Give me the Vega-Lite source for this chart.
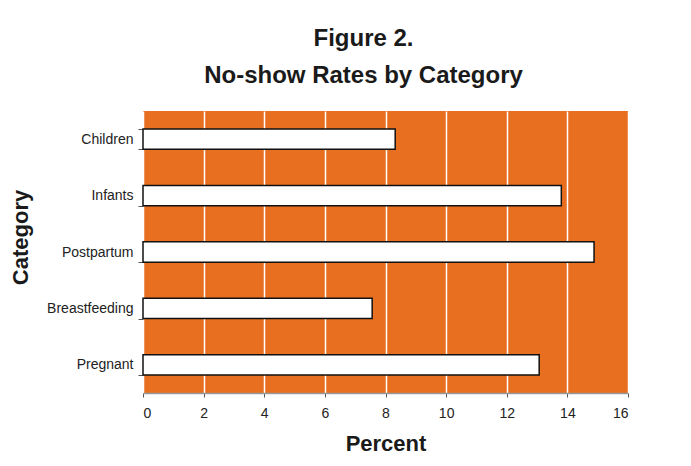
{
  "$schema": "https://vega.github.io/schema/vega-lite/v6.json",
  "autosize": "none",
  "width": 485,
  "height": 282,
  "padding": {"left": 143, "top": 111, "right": 63, "bottom": 73},
  "background": "white",
  "title": {
    "text": ["Figure 2.", "No-show Rates by Category"],
    "font": "Liberation Sans",
    "fontSize": 24,
    "fontWeight": "bold",
    "color": "#1a1a1a",
    "lineHeight": 37,
    "anchor": "middle",
    "dx": -22,
    "offset": 16
  },
  "data": {
    "values": [
      {"category": "Children", "percent": 8.32},
      {"category": "Infants", "percent": 13.8},
      {"category": "Postpartum", "percent": 14.88},
      {"category": "Breastfeeding", "percent": 7.56},
      {"category": "Pregnant", "percent": 13.07}
    ]
  },
  "mark": {"type": "bar", "fill": "white", "stroke": "#111111", "strokeWidth": 1.5},
  "encoding": {
    "y": {
      "field": "category",
      "type": "nominal",
      "sort": null,
      "scale": {"paddingInner": 0.64, "paddingOuter": 0.32},
      "axis": {
        "title": "Category",
        "titleFont": "Liberation Sans",
        "titleFontSize": 22,
        "titleFontWeight": "bold",
        "titleColor": "#1a1a1a",
        "titlePadding": 14,
        "titleY": 126,
        "labelFont": "Liberation Sans",
        "labelFontSize": 14,
        "labelColor": "#222222",
        "labelPadding": 5,
        "tickBand": "extent",
        "tickSize": 5,
        "tickColor": "#555555",
        "domain": false,
        "grid": false
      }
    },
    "x": {
      "field": "percent",
      "type": "quantitative",
      "scale": {"domain": [0, 16], "nice": false},
      "axis": {
        "title": "Percent",
        "values": [0, 2, 4, 6, 8, 10, 12, 14, 16],
        "titleFont": "Liberation Sans",
        "titleFontSize": 22,
        "titleFontWeight": "bold",
        "titleColor": "#1a1a1a",
        "titlePadding": 13,
        "labelFont": "Liberation Sans",
        "labelFontSize": 14,
        "labelColor": "#222222",
        "labelPadding": 9,
        "tickSize": 4,
        "tickColor": "#555555",
        "domainColor": "#999999",
        "domainWidth": 1.5,
        "grid": true,
        "gridColor": "white",
        "gridWidth": 1.5,
        "gridOpacity": 1
      }
    }
  },
  "config": {
    "view": {"fill": "#E86F20", "stroke": null}
  }
}
